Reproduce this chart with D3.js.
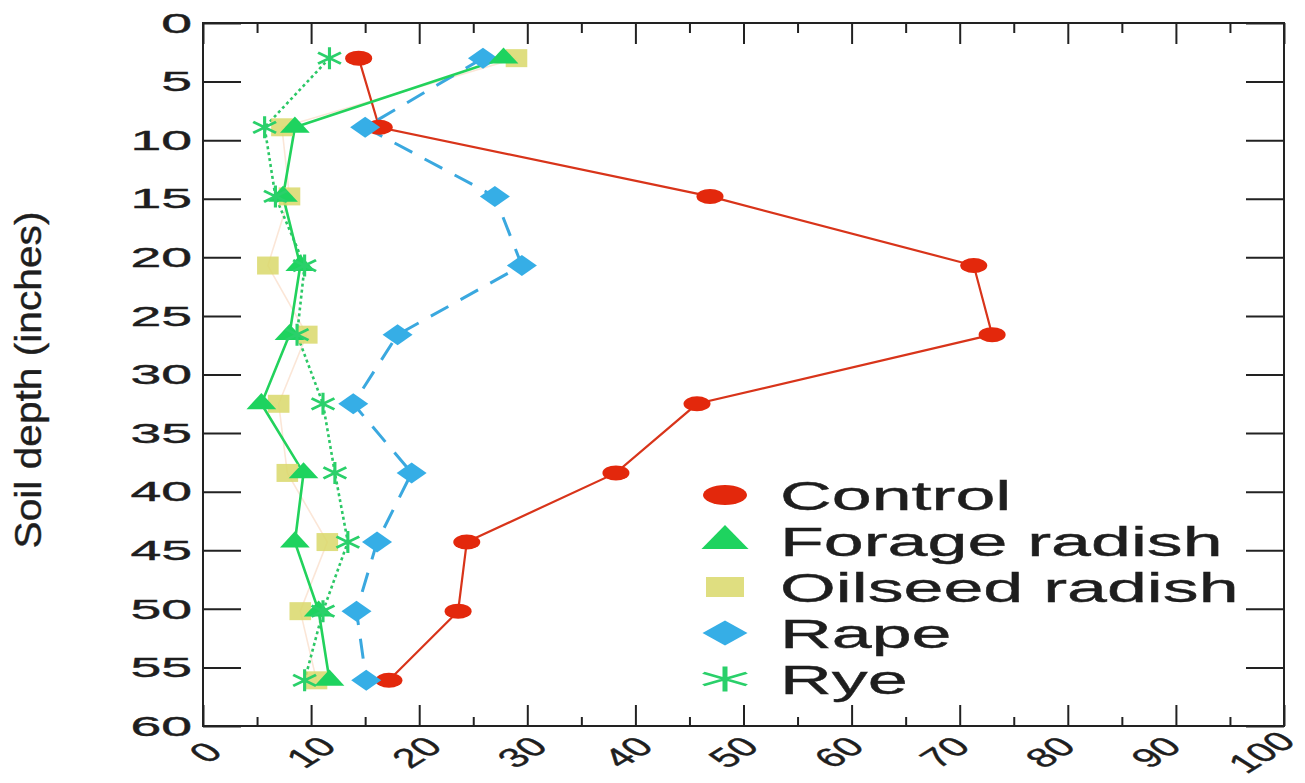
<!DOCTYPE html>
<html>
<head>
<meta charset="utf-8">
<script src="https://cdn.jsdelivr.net/npm/d3@7"></script>
<style>
  body { margin: 0; background: #fff; }
  text { font-family: "Liberation Sans", Arial, sans-serif; fill: #1e1e1e; stroke: #1e1e1e; stroke-width: 0.4; }
</style>
</head>
<body>
<script>
// depth of each sample (inches) and values per treatment
var depths  = [3.0, 8.9, 14.8, 20.7, 26.6, 32.5, 38.4, 44.3, 50.2, 56.1];
var control = [14.4, 16.3, 46.9, 71.3, 73.0, 45.7, 38.2, 24.4, 23.6, 17.2];
var forage  = [27.8, 8.5, 7.4, 9.0, 8.0, 5.4, 9.3, 8.5, 10.7, 11.7];
var oilseed = [29.0, 7.3, 8.0, 6.0, 9.6, 7.0, 7.8, 11.5, 9.0, 10.5];
var rape    = [25.9, 15.0, 27.0, 29.5, 18.0, 13.9, 19.3, 16.1, 14.2, 15.1];
var rye     = [11.7, 5.7, 6.7, 9.4, 8.7, 11.1, 12.2, 13.4, 11.1, 9.4];

var names = ["Control", "Forage radish", "Oilseed radish", "Rape", "Rye"];

var xTicks = [0, 10, 20, 30, 40, 50, 60, 70, 80, 90, 100];
var xMinor = [5, 15, 25, 35, 45, 55, 65, 75, 85, 95];
var yTicks = [0, 5, 10, 15, 20, 25, 30, 35, 40, 45, 50, 55, 60];

var svg = d3.select("body").append("svg").attr("width", 1305).attr("height", 783);

var x = d3.scaleLinear().domain([0, 100]).range([203, 1284]);
var y = d3.scaleLinear().domain([0, 60]).range([23, 726]);

// custom marker shapes (stretched sideways later)
var diamond = { draw: function(c, s) { var r = Math.sqrt(s) / 2; c.moveTo(0, -r); c.lineTo(r, 0); c.lineTo(0, r); c.lineTo(-r, 0); c.closePath(); } };
var star = { draw: function(c, s) {
  var r = Math.sqrt(s) / 2;
  for (var i = 0; i < 3; i++) {
    var a = Math.PI / 2 + i * Math.PI / 3;
    c.moveTo(r * Math.cos(a), r * Math.sin(a));
    c.lineTo(-r * Math.cos(a), -r * Math.sin(a));
  }
} };

var series = [
  {name: "Oilseed radish", values: oilseed, line: "#f3b68c", width: 1.6, dash: null, lineOpacity: 0.35,
   shape: d3.symbolSquare, size: 324, fill: "#d9d86a", stroke: "none", sx: 1.2, opacity: 0.85,
   lsize: 400, lsx: 1.9},
  {name: "Control", values: control, line: "#d8341a", width: 2.2, dash: null, lineOpacity: 1,
   shape: d3.symbolCircle, size: 177, fill: "#e3280c", stroke: "none", sx: 1.8, opacity: 1,
   lsize: 314, lsx: 2.2},
  {name: "Rape", values: rape, line: "#3aa8df", width: 3, dash: "20,14", lineOpacity: 1,
   shape: diamond, size: 441, fill: "#36aee6", stroke: "none", sx: 1.43, opacity: 1,
   lsize: 625, lsx: 1.8},
  {name: "Forage radish", values: forage, line: "#22d25c", width: 2.6, dash: null, lineOpacity: 1,
   shape: d3.symbolTriangle, size: 150, fill: "#1ed35f", stroke: "none", sx: 1.6, opacity: 1,
   lsize: 332, lsx: 1.7},
  {name: "Rye", values: rye, line: "#2cc866", width: 2.6, dash: "3,3", lineOpacity: 1,
   shape: star, size: 484, fill: "none", stroke: "#2ad06a", sx: 1.2, opacity: 1,
   lsize: 625, lsx: 2.0}
];

var line = d3.line()
    .x(function(d) { return x(d[0]); })
    .y(function(d) { return y(d[1]); });

series.forEach(function(s) {
  var pts = s.values.map(function(v, i) { return [v, depths[i]]; });
  svg.append("path")
      .datum(pts)
      .attr("d", line)
      .attr("fill", "none")
      .attr("stroke", s.line)
      .attr("stroke-width", s.width)
      .attr("stroke-dasharray", s.dash)
      .attr("opacity", s.lineOpacity);
});

series.forEach(function(s) {
  var pts = s.values.map(function(v, i) { return [v, depths[i]]; });
  svg.append("g").selectAll("path")
    .data(pts)
    .enter().append("path")
      .attr("d", d3.symbol().type(s.shape).size(s.size))
      .attr("transform", function(d) { return "translate(" + x(d[0]) + "," + y(d[1]) + ") scale(" + s.sx + ",1)"; })
      .attr("fill", s.fill)
      .attr("stroke", s.stroke)
      .attr("stroke-width", 2.6)
      .attr("opacity", s.opacity);
});

// frame and inward ticks
svg.append("rect")
    .attr("x", x(0)).attr("y", y(0))
    .attr("width", x(100) - x(0)).attr("height", y(60) - y(0))
    .attr("fill", "none").attr("stroke", "#222").attr("stroke-width", 2);

function ticks(axis, vals, pos, size) {
  var g = svg.append("g")
      .attr("transform", pos)
      .call(axis.tickValues(vals).tickSize(-size).tickFormat(""));
  g.select(".domain").remove();
  g.selectAll("line").attr("stroke", "#222").attr("stroke-width", 2);
}
ticks(d3.axisBottom(x), xTicks, "translate(0," + y(60) + ")", 21);
ticks(d3.axisBottom(x), xMinor, "translate(0," + y(60) + ")", 9);
ticks(d3.axisTop(x), xTicks, "translate(0," + y(0) + ")", 21);
ticks(d3.axisTop(x), xMinor, "translate(0," + y(0) + ")", 10);
ticks(d3.axisLeft(y), yTicks, "translate(" + x(0) + ",0)", 38);
ticks(d3.axisRight(y), yTicks, "translate(" + x(100) + ",0)", 38);

// tick labels
svg.append("g").selectAll("text")
  .data(yTicks)
  .enter().append("text")
    .attr("transform", function(d) { return "translate(192," + y(d) + ") scale(2.05,1)"; })
    .attr("text-anchor", "end")
    .attr("dy", "0.36em")
    .attr("font-size", 27)
    .text(function(d) { return d; });

// the rotated labels drift a little left of their ticks toward the right end
svg.append("g").selectAll("text")
  .data(xTicks)
  .enter().append("text")
    .attr("transform", function(d) { return "translate(" + (x(d) + 2 - d * 0.25) + ",752) scale(1.6,1) rotate(-45)"; })
    .attr("text-anchor", "middle")
    .attr("dy", "0.36em")
    .attr("font-size", 27)
    .text(function(d) { return d; });

svg.append("text")
    .attr("transform", "translate(41,380) rotate(-90) scale(1.13,1)")
    .attr("text-anchor", "middle")
    .attr("font-size", 36)
    .text("Soil depth (inches)");

// legend
var legendOrder = [series[1], series[3], series[0], series[2], series[4]];
var legend = svg.append("g")
  .selectAll("g")
  .data(legendOrder)
  .enter().append("g")
    .attr("transform", function(d, i) { return "translate(725," + (495 + i * 46) + ")"; });

legend.append("path")
    .attr("d", function(d) { return d3.symbol().type(d.shape).size(d.lsize)(); })
    .attr("transform", function(d) { return "scale(" + d.lsx + ",1)"; })
    .attr("fill", function(d) { return d.fill; })
    .attr("stroke", function(d) { return d.stroke; })
    .attr("stroke-width", 2.5)
    .attr("opacity", function(d) { return d.opacity; });

legend.append("text")
    .attr("transform", "translate(55,0) scale(1.75,1)")
    .attr("dy", "0.36em")
    .attr("font-size", 41)
    .text(function(d) { return d.name; });
</script>
</body>
</html>
